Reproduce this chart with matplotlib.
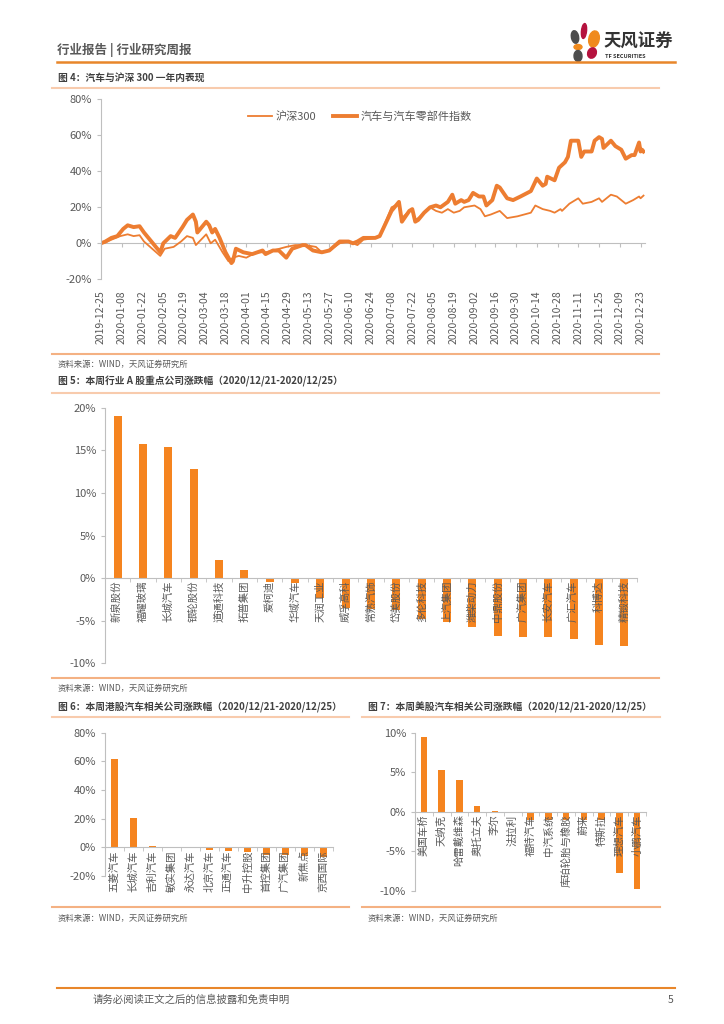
import matplotlib
matplotlib.use('Agg')
import matplotlib.pyplot as plt
import matplotlib.dates as mdates
from matplotlib.lines import Line2D
from matplotlib.patches import Ellipse
import numpy as np
import pandas as pd

plt.rcParams['font.family'] = ['Noto Sans CJK SC', 'DejaVu Sans']
plt.rcParams['axes.unicode_minus'] = False

# ---- data ----
start = '2019-12-25'
# fig 4: days since 2019-12-25, cumulative change in %
auto_days = [0, 3, 7, 11, 15, 18, 22, 26, 29, 40, 42, 47, 50, 55, 58, 62, 64, 65, 71, 73, 75, 77, 80, 84, 86, 88,
             89, 91, 96, 102, 109, 111, 116, 120, 125, 129, 136, 138, 143, 149, 154, 161, 167, 170, 173, 177, 185,
             188, 196, 201, 203, 208, 210, 212, 214, 218, 222, 226, 229, 234, 237, 239, 243, 245, 248, 251, 255,
             258, 260, 264, 267, 269, 274, 278, 283, 290, 294, 298, 300, 301, 306, 309, 313, 315, 317, 322, 324,
             326, 331, 333, 336, 338, 339, 344, 347, 351, 354, 358, 360, 363, 364, 365, 366]
auto_vals = [0, 1, 3, 4, 8, 10, 9, 9.5, 6, -5, 0, 4, 3, 9, 13, 16, 12, 6, 12, 10, 6, 8, 3, -5, -8, -11,
             -10, -3, -5, -6, -4, -6, -4, -4, -8, -3, -1, -1, -4, -5, -4, 1, 1, 0, 1, 3, 3,
             4, 18, 23, 12, 18, 19, 12, 13, 17, 20, 21, 20, 23, 27, 22, 24, 23, 24, 28, 26,
             26, 21, 24, 32, 31, 25, 24, 26, 29, 36, 32, 33, 37, 35, 42, 45, 48, 57, 57, 48,
             51, 51, 57, 59, 58, 53, 57, 54, 52, 47, 49, 49, 56, 51, 52, 51]
hs_days = [0, 3, 7, 13, 18, 22, 26, 29, 40, 43, 49, 54, 58, 62, 64, 71, 74, 77, 82, 86, 89, 93, 98, 105, 111,
           116, 125, 131, 138, 145, 149, 154, 161, 167, 173, 177, 185, 188, 196, 201, 203, 208, 210, 212, 214,
           218, 222, 226, 230, 234, 238, 242, 245, 252, 256, 259, 263, 266, 269, 274, 281, 290, 293, 298, 303,
           306, 310, 311, 316, 322, 325, 331, 336, 338, 344, 348, 354, 359, 363, 364, 366]
hs_vals = [0, 0.5, 2, 4, 5, 4, 4.5, 1, -7, -3, -2, 1, 4, 3, -1, 5, 0, 2, -5, -10, -8, -7, -8, -5, -5,
           -4, -2, -1, -1, -2, -5, -4, 0, 1, -1, 2, 3, 4, 20, 22, 14, 18, 19, 13, 14,
           17, 20, 18, 17, 19, 17, 18, 20, 21, 19, 15, 16, 17, 18, 14, 15, 17, 21, 19, 18,
           17, 19, 18, 22, 25, 22, 23, 25, 23, 27, 26, 22, 24, 26, 25, 26.5]

a_names = ['新泉股份', '福耀玻璃', '长城汽车', '银轮股份', '道通科技', '拓普集团', '爱柯迪', '华域汽车',
           '天润工业', '威孚高科', '常熟汽饰', '岱美股份', '多伦科技', '上汽集团', '潍柴动力', '中鼎股份',
           '广汽集团', '长安汽车', '广汇汽车', '科博达', '精锻科技']
a_vals = [19.0, 15.7, 15.4, 12.8, 2.1, 0.9, -0.5, -0.6, -2.3, -3.5, -3.6, -3.7, -4.8, -5.1, -5.7, -6.8,
          -6.9, -6.9, -7.2, -7.8, -8.0]

hk_names = ['五菱汽车', '长城汽车', '吉利汽车', '敏实集团', '永达汽车', '北京汽车', '正通汽车', '中升控股',
            '首控集团', '广汽集团', '新焦点', '京西国际']
hk_vals = [61.4, 20.5, 1.2, 0.3, 0.1, -1.9, -2.6, -3.0, -5.3, -5.6, -6.0, -6.5]

us_names = ['美国车桥', '天纳克', '哈雷戴维森', '奥托立夫', '李尔', '法拉利', '福特汽车', '中汽系统',
            '库珀轮胎与橡胶', '蔚来', '特斯拉', '理想汽车', '小鹏汽车']
us_vals = [9.5, 5.3, 4.0, 0.7, 0.1, -0.05, -1.0, -1.0, -1.05, -1.0, -1.0, -7.8, -9.8]

ORANGE = '#ED7D31'
BAR = '#F5841F'
GRAY = '#595959'
AXIS = '#BFBFBF'

W, H = 724, 1024
fig = plt.figure(figsize=(W / 100, H / 100), dpi=100)


def fx(x):
    return x / W


def fy(y):
    return 1 - y / H


def hline(y, x0, x1, color, lw):
    fig.add_artist(Line2D([fx(x0), fx(x1)], [fy(y), fy(y)], color=color, lw=lw))


def txt(x, y, s, size, **kw):
    fig.text(fx(x), fy(y), s, fontsize=size, va='center', **kw)


# ---- page header / footer ----
txt(57, 50, '行业报告 | 行业研究周报', 9, color=GRAY, fontweight='bold')
hline(62, 57, 675, '#E8862A', 1.8)
petals = [((575, 37), 7, 13, 25, '#4D4D4D'), ((584, 31), 5, 15, -10, '#B5123E'),
          ((594, 39), 10, 17, -35, '#F08A1D'), ((578, 47), 8, 5, 0, '#F08A1D'),
          ((592, 53), 9, 10, 20, '#B5123E'), ((578, 56), 8, 11, -20, '#4D4D4D')]
for (cx, cy), w, h, ang, c in petals:
    fig.add_artist(Ellipse((fx(cx), fy(cy)), w / W, h / H, angle=ang, color=c,
                           transform=fig.transFigure))
txt(603, 42, '天风证券', 12.5, color='#333333', fontweight='bold')
txt(605, 56, 'TF SECURITIES', 4, color='#333333', fontweight='bold')

hline(988, 57, 675, '#E8862A', 1.5)
txt(93, 1000, '请务必阅读正文之后的信息披露和免责申明', 7.5, color=GRAY)
txt(668, 1000, '5', 7.5, color=GRAY)


def section(title, x0, x1, ytitle, ytop, ybot, ysrc):
    txt(x0 + 6, ytitle, title, 7, color='#404040', fontweight='bold')
    hline(ytop, x0, x1, '#F8CBAD', 1.5)
    hline(ybot, x0, x1, '#F4B183', 1.5)
    txt(x0 + 6, ysrc, '资料来源：WIND，天风证券研究所', 6, color=GRAY)


section('图 4：汽车与沪深 300 一年内表现', 52, 659, 78, 88, 354, 364)
section('图 5：本周行业 A 股重点公司涨跌幅（2020/12/21-2020/12/25）', 52, 659, 381, 393, 678, 688)
section('图 6：本周港股汽车相关公司涨跌幅（2020/12/21-2020/12/25）', 52, 349, 707, 717, 907, 918)
section('图 7：本周美股汽车相关公司涨跌幅（2020/12/21-2020/12/25）', 362, 660, 707, 717, 907, 918)


def add_ax(x0, x1, ytop, ybot):
    return fig.add_axes([fx(x0), fy(ybot), (x1 - x0) / W, (ybot - ytop) / H])


def pct(v, pos=None):
    return f'{int(round(v))}%'


# ---- fig 4 line chart ----
ax = add_ax(101, 645, 99.3, 279.3)
d0 = pd.Timestamp(start)
auto_dates = d0 + pd.to_timedelta(auto_days, unit='D')
hs_dates = d0 + pd.to_timedelta(hs_days, unit='D')
ax.plot(hs_dates, hs_vals, color=ORANGE, lw=1.3, label='沪深300')
ax.plot(auto_dates, auto_vals, color=ORANGE, lw=2.8, label='汽车与汽车零部件指数')
ax.set_ylim(-20, 80)
ax.set_yticks(range(-20, 81, 20))
ax.yaxis.set_major_formatter(plt.FuncFormatter(pct))
ticks = pd.date_range(start, periods=27, freq='14D')
ax.set_xlim(d0, pd.Timestamp('2020-12-26'))
ax.set_xticks(ticks)
ax.xaxis.set_major_formatter(mdates.DateFormatter('%Y-%m-%d'))
ax.tick_params(axis='x', length=0, pad=8, labelsize=7.5, labelcolor=GRAY, rotation=90)
ax.tick_params(axis='y', length=3, color=AXIS, labelsize=8, labelcolor=GRAY)
for s in ['top', 'right', 'bottom']:
    ax.spines[s].set_visible(False)
ax.spines['left'].set_color(AXIS)
sec = ax.secondary_xaxis(0.2)
sec.set_xticks(ticks)
sec.tick_params(length=3, color=AXIS, labelbottom=False)
sec.spines['bottom'].set_color(AXIS)
leg = ax.legend(loc='upper center', bbox_to_anchor=(0.476, 0.99), ncol=2, frameon=False,
                fontsize=8, handlelength=2.2, columnspacing=1.5, handletextpad=0.3)
for t in leg.get_texts():
    t.set_color(GRAY)


# ---- bar charts ----
def bar_chart(ax, names, vals, lo, hi, step, width, fs):
    x = np.arange(len(names))
    ax.spines['bottom'].set_position(('data', 0))
    ax.spines['bottom'].set_color(AXIS)
    ax.spines['left'].set_color(AXIS)
    for s in ['top', 'right']:
        ax.spines[s].set_visible(False)
    ax.bar(x, vals, width=width, color=BAR)
    ax.set_xlim(-0.5, len(names) - 0.5)
    ax.set_ylim(lo, hi)
    ax.set_yticks(np.arange(lo, hi + step / 2, step))
    ax.yaxis.set_major_formatter(plt.FuncFormatter(pct))
    ax.set_xticks(x)
    ax.set_xticklabels(names, fontsize=fs, color=GRAY)
    ax.set_xticks(np.arange(-0.5, len(names)), minor=True)
    ax.tick_params(axis='x', which='major', length=0, pad=2, labelrotation=90)
    ax.tick_params(axis='x', which='minor', length=3, color=AXIS)
    ax.tick_params(axis='y', length=3, color=AXIS, labelsize=8, labelcolor=GRAY)
    for lab in ax.get_xticklabels():
        lab.set_verticalalignment('top')
        lab.set_horizontalalignment('center')


ax5 = add_ax(105, 637, 407.7, 663.3)
bar_chart(ax5, a_names, a_vals, -10, 20, 5, 0.32, 7.5)

ax6 = add_ax(105, 333, 732.7, 876)
bar_chart(ax6, hk_names, hk_vals, -20, 80, 20, 0.35, 7.5)

ax7 = add_ax(415, 646, 732.7, 890.7)
bar_chart(ax7, us_names, us_vals, -10, 10, 5, 0.37, 7.5)

fig.savefig('out.png', dpi=100)
